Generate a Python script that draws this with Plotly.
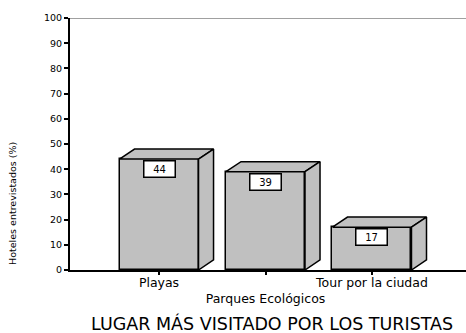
import plotly.graph_objects as go

# Survey results: share of interviewed hotels naming each place (%)
categories = ["Playas", "Parques Ecológicos", "Tour por la ciudad"]
values = [44, 39, 17]
y_ticks = [0, 10, 20, 30, 40, 50, 60, 70, 80, 90, 100]

FONT = "DejaVu Sans"
FILL = "#C0C0C0"
EDGE = "#000000"

bar_w = 0.742      # front face width (category units)
depth_x = 0.141    # 3D depth offset along x (category units)
depth_y = 4.0      # 3D depth offset along y (value units)

x_pos = list(range(len(categories)))

fig = go.Figure()

# Front faces
fig.add_trace(go.Bar(
    x=x_pos, y=values, width=bar_w,
    marker=dict(color=FILL, line=dict(color=EDGE, width=1.5)),
    hoverinfo="skip", showlegend=False,
))

# Top and side faces giving the boxes their depth
for xi, v in zip(x_pos, values):
    l, r = xi - bar_w / 2, xi + bar_w / 2
    top_x = [l, l + depth_x, r + depth_x, r, l]
    top_y = [v, v + depth_y, v + depth_y, v, v]
    side_x = [r, r + depth_x, r + depth_x, r, r]
    side_y = [0, depth_y, v + depth_y, v, 0]
    for px, py in ((top_x, top_y), (side_x, side_y)):
        fig.add_trace(go.Scatter(
            x=px, y=py, mode="lines", fill="toself", fillcolor=FILL,
            line=dict(color=EDGE, width=1.5),
            hoverinfo="skip", showlegend=False,
        ))

# Boxed value labels on each front face
for xi, v in zip(x_pos, values):
    fig.add_annotation(
        x=xi, y=v, xref="x", yref="y", text=str(v), showarrow=False,
        yanchor="top", yshift=-1,
        font=dict(family=FONT, size=10, color="#000"),
        bgcolor="#FFFFFF", bordercolor=EDGE, borderwidth=1.5,
        borderpad=1, width=28, height=13,
    )

# Category labels staggered on two rows
tick_text = [c if i % 2 == 0 else "<br>" + c for i, c in enumerate(categories)]

fig.update_layout(
    width=466, height=333,
    margin=dict(l=70, r=0, t=18, b=63, autoexpand=False),
    paper_bgcolor="#FFFFFF", plot_bgcolor="#FFFFFF",
    font=dict(family=FONT, color="#000"),
    bargap=0,
    xaxis=dict(
        range=[-0.836, 2.883], tickvals=x_pos, ticktext=tick_text,
        tickangle=0, automargin=False, ticklabelstandoff=-3,
        ticks="outside", ticklen=3, tickwidth=2, tickcolor=EDGE,
        showline=True, linecolor=EDGE, linewidth=1.5,
        showgrid=False, zeroline=False,
        tickfont=dict(family=FONT, size=12.5, color="#000"),
    ),
    yaxis=dict(
        range=[0, 100], tickvals=y_ticks, automargin=False,
        ticks="outside", ticklen=4, tickwidth=2, tickcolor=EDGE,
        showline=True, linecolor=EDGE, linewidth=2,
        showgrid=False, zeroline=False,
        tickfont=dict(family=FONT, size=9.5, color="#000"),
    ),
    shapes=[dict(
        type="line", xref="paper", yref="y", x0=0, x1=1, y0=100, y1=100,
        line=dict(color="#808080", width=1.5),
    )],
)

# Axis title on the left
fig.add_annotation(
    text="Hoteles entrevistados (%)", xref="paper", yref="paper",
    x=-0.144, y=0.266, xanchor="center", yanchor="middle",
    textangle=-90, showarrow=False,
    font=dict(family=FONT, size=9.5, color="#000"),
)

# Caption below the chart
fig.add_annotation(
    text="LUGAR MÁS VISITADO POR LOS TURISTAS", xref="paper", yref="paper",
    x=0.51, y=-0.214, xanchor="center", yanchor="middle", showarrow=False,
    font=dict(family=FONT, size=17.5, color="#000"),
)

fig.write_html("out.html")
